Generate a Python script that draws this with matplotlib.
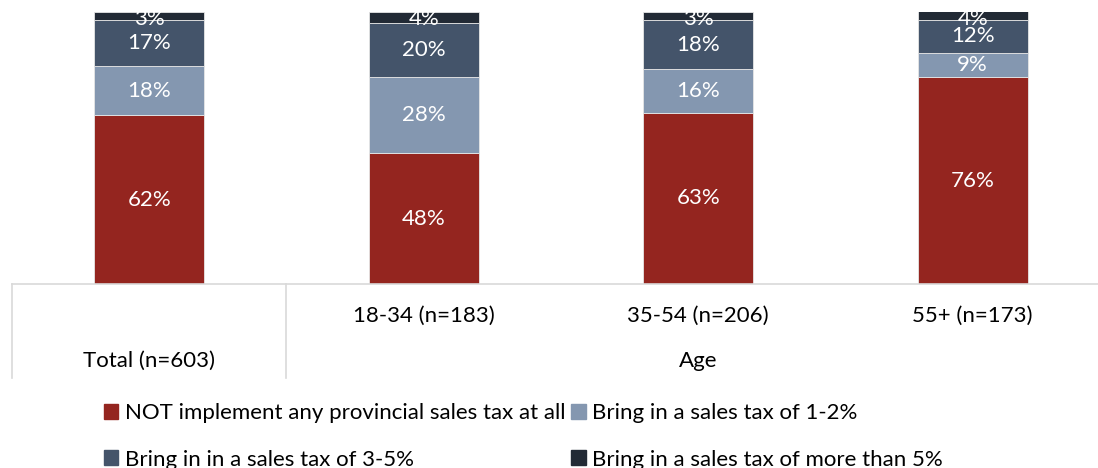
import matplotlib.pyplot as plt
from matplotlib.lines import Line2D
from matplotlib.patches import Patch
from matplotlib.transforms import blended_transform_factory

plt.rcParams["font.family"] = ["Lato", "DejaVu Sans"]

# Survey shares (%) per group
groups = ["Total (n=603)", "18-34 (n=183)", "35-54 (n=206)", "55+ (n=173)"]
no_tax = [62, 48, 63, 76]
tax_1_2 = [18, 28, 16, 9]
tax_3_5 = [17, 20, 18, 12]
tax_over_5 = [3, 4, 3, 4]

series = [
    ("NOT implement any provincial sales tax at all", no_tax, "#94251F"),
    ("Bring in a sales tax of 1-2%", tax_1_2, "#8497B0"),
    ("Bring in in a sales tax of 3-5%", tax_3_5, "#44546A"),
    ("Bring in a sales tax of more than 5%", tax_over_5, "#222A35"),
]

W, H = 1098, 468
FS = 16
fig = plt.figure(figsize=(W / 100, H / 100), dpi=100)
ax = fig.add_axes([12 / W, (H - 284) / H, (W - 12) / W, 272 / H])

x = list(range(len(groups)))
bottom = [0] * len(groups)
for name, vals, color in series:
    ax.bar(x, vals, width=0.4, bottom=bottom, color=color,
           edgecolor="#e6e6e6", linewidth=0.6, label=name)
    for xi, b, v in zip(x, bottom, vals):
        # keep labels inside the plot area
        ax.text(xi, min(b + v / 2, 97.3), f"{v}%", ha="center", va="center",
                color="white", fontsize=FS)
    bottom = [b + v for b, v in zip(bottom, vals)]

ax.set_xlim(-0.5, 3.5 - 12 / 274.8)
ax.set_ylim(0, 100)
ax.axis("off")

# two-level category axis below the bars
grid = "#d9d9d9"
tr = blended_transform_factory(ax.transData, fig.transFigure)
ax.add_line(Line2D([-0.5, 3.6], [1 - 284 / H] * 2, transform=tr,
                   color=grid, lw=1.2, clip_on=False))
for xv in (-0.5, 0.5):
    ax.add_line(Line2D([xv, xv], [1 - 284 / H, 1 - 378 / H], transform=tr,
                       color=grid, lw=1.2, clip_on=False))
for xi, g in zip(x[1:], groups[1:]):
    ax.text(xi, 1 - 316 / H, g, transform=tr, ha="center", va="center",
            fontsize=FS)
ax.text(0, 1 - 361 / H, groups[0], transform=tr, ha="center", va="center",
        fontsize=FS)
ax.text(2, 1 - 361 / H, "Age", transform=tr, ha="center", va="center",
        fontsize=FS)

# legend laid out row by row
order = [0, 2, 1, 3]
handles = [Patch(color=series[i][2], label=series[i][0]) for i in order]
fig.legend(handles=handles, ncol=2, loc="upper left",
           bbox_to_anchor=(104 / W, 1 - 403 / H), frameon=False,
           fontsize=FS, handlelength=0.65, handleheight=0.65,
           handletextpad=0.3, columnspacing=0.25, labelspacing=1.2,
           borderpad=0, borderaxespad=0)

fig.savefig("out.png", dpi=100)
